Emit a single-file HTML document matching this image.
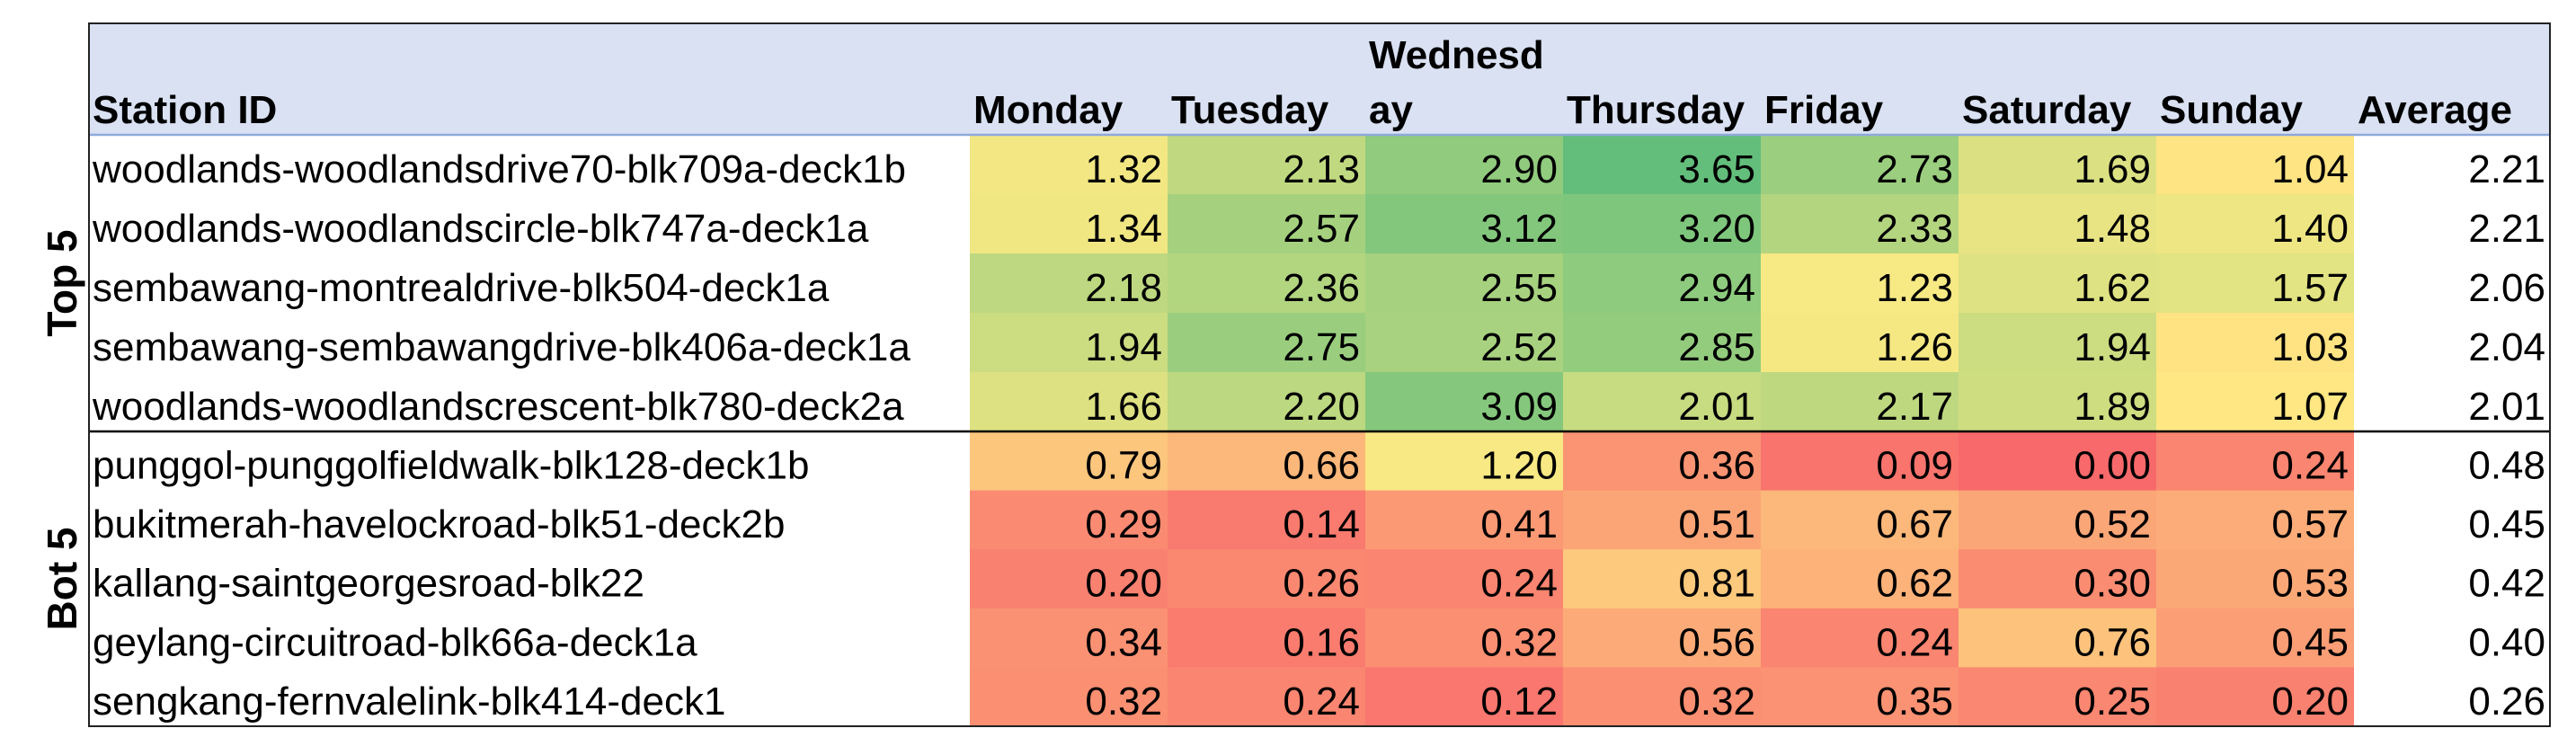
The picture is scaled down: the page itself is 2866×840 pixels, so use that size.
<!DOCTYPE html>
<html><head><meta charset="utf-8"><style>
html,body{margin:0;padding:0;background:#fff;}
svg{display:block;font-family:"Liberation Sans",sans-serif;}
</style></head><body>
<svg id="chart" width="2866" height="840" viewBox="0 0 2866 840" xmlns="http://www.w3.org/2000/svg"></svg>
<script>
const stations = [
"woodlands-woodlandsdrive70-blk709a-deck1b",
"woodlands-woodlandscircle-blk747a-deck1a",
"sembawang-montrealdrive-blk504-deck1a",
"sembawang-sembawangdrive-blk406a-deck1a",
"woodlands-woodlandscrescent-blk780-deck2a",
"punggol-punggolfieldwalk-blk128-deck1b",
"bukitmerah-havelockroad-blk51-deck2b",
"kallang-saintgeorgesroad-blk22",
"geylang-circuitroad-blk66a-deck1a",
"sengkang-fernvalelink-blk414-deck1"];
const days = ["Monday","Tuesday","Wednesday","Thursday","Friday","Saturday","Sunday"];
const monday    = [1.32,1.34,2.18,1.94,1.66,0.79,0.29,0.20,0.34,0.32];
const tuesday   = [2.13,2.57,2.36,2.75,2.20,0.66,0.14,0.26,0.16,0.24];
const wednesday = [2.90,3.12,2.55,2.52,3.09,1.20,0.41,0.24,0.32,0.12];
const thursday  = [3.65,3.20,2.94,2.85,2.01,0.36,0.51,0.81,0.56,0.32];
const friday    = [2.73,2.33,1.23,1.26,2.17,0.09,0.67,0.62,0.24,0.35];
const saturday  = [1.69,1.48,1.62,1.94,1.89,0.00,0.52,0.30,0.76,0.25];
const sunday    = [1.04,1.40,1.57,1.03,1.07,0.24,0.57,0.53,0.45,0.20];
const average   = [2.21,2.21,2.06,2.04,2.01,0.48,0.45,0.42,0.40,0.26];
const series = [monday,tuesday,wednesday,thursday,friday,saturday,sunday];
const groupLabels = ["Top 5","Bot 5"];

const NS="http://www.w3.org/2000/svg";
const svg=document.getElementById('chart');
function mk(tag,attrs,parent){const e=document.createElementNS(NS,tag);for(const k in attrs)e.setAttribute(k,attrs[k]);(parent||svg).appendChild(e);return e;}
const L=99,R=2837,T=26,HB=150,SEP=480,B=808;
const colX0=1079,colW=220;
const topRowH=(SEP-HB)/5, botRowH=(B-SEP)/5;
function rowY(i){return i<5?HB+i*topRowH:SEP+(i-5)*botRowH;}
function rowH(i){return i<5?topRowH:botRowH;}
function colX(j){return colX0+j*colW;}
const vMin=0,vMid=1.1,vMax=3.65;
function lerp(a,b,t){return Math.round(a+(b-a)*t);}
function color(v){
  let c1,c2,t;
  if(v<=vMid){c1=[248,105,107];c2=[255,235,132];t=(v-vMin)/(vMid-vMin);}
  else{c1=[255,235,132];c2=[99,190,123];t=(v-vMid)/(vMax-vMid);}
  t=Math.max(0,Math.min(1,t));
  return `rgb(${lerp(c1[0],c2[0],t)},${lerp(c1[1],c2[1],t)},${lerp(c1[2],c2[2],t)})`;
}
// header
const hdr=mk('rect',{x:L,y:T,width:R-L,height:HB-T,fill:'#D9E1F2'});


const st=mk('text',{x:103,y:137,'font-size':44,'font-weight':'bold',fill:'#000'});
st.textContent='Station ID';


days.forEach((d,j)=>{
  if(d==='Wednesday'){
    const a=mk('text',{x:colX(j)+4,y:76,'font-size':44,'font-weight':'bold'});a.textContent='Wednesd';
    
    
    const b=mk('text',{x:colX(j)+4,y:137,'font-size':44,'font-weight':'bold'});b.textContent='ay';
    
    
  } else {
    const t=mk('text',{x:colX(j)+4,y:137,'font-size':44,'font-weight':'bold'});t.textContent=d;
    
    
  }
});
const av=mk('text',{x:colX(7)+4,y:137,'font-size':44,'font-weight':'bold'});av.textContent='Average';


// cells
stations.forEach((s,i)=>{
  const y=rowY(i),h=rowH(i);
  const n=mk('text',{x:103,y:y+h*0.8,'font-size':44});n.textContent=s;
  
  
  series.forEach((arr,j)=>{
    const r=mk('rect',{x:colX(j),y:y,width:colW,height:h+0.5,fill:color(arr[i])});
    
    
    const t=mk('text',{x:colX(j)+colW-6,y:y+h*0.8,'font-size':44,'text-anchor':'end'});t.textContent=arr[i].toFixed(2);
    
    
  });
  const a=mk('text',{x:colX(7)+colW-7,y:y+h*0.8,'font-size':44,'text-anchor':'end'});a.textContent=average[i].toFixed(2);
  
  
});
// lines
const hl=mk('line',{x1:L,x2:R,y1:HB,y2:HB,stroke:'#8EA9DB','stroke-width':2.5});


const sl=mk('line',{x1:L,x2:R,y1:SEP,y2:SEP,stroke:'#000','stroke-width':2.5});


const br=mk('rect',{x:L,y:T,width:R-L,height:B-T,fill:'none',stroke:'#222','stroke-width':2});


// group labels
[[HB,SEP],[SEP,B]].forEach((g,k)=>{
  const cy=(g[0]+g[1])/2;
  const t=mk('text',{x:0,y:0,'font-size':46,'font-weight':'bold','text-anchor':'middle',transform:`translate(85,${cy}) rotate(-90)`});
  t.textContent=groupLabels[k];
  
  
});
</script>
</body></html>
